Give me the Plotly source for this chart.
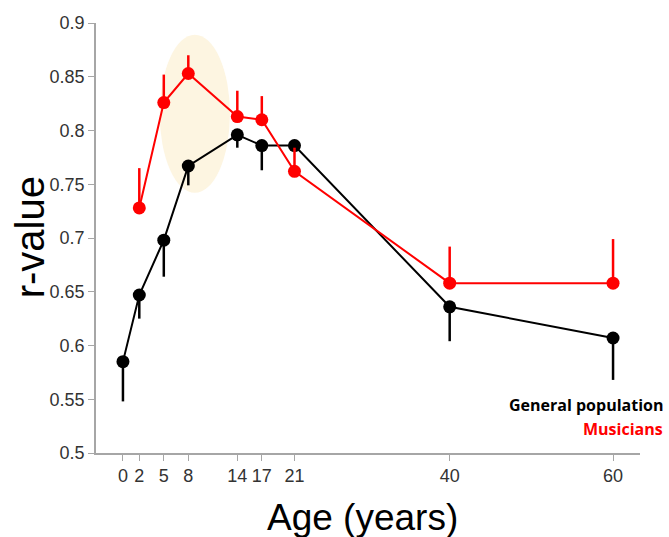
import plotly.graph_objects as go

# Data
ages_general = [0, 2, 5, 8, 14, 17, 21, 40, 60]
r_general = [0.585, 0.647, 0.698, 0.767, 0.796, 0.786, 0.786, 0.636, 0.607]
err_general_down = [0.037, 0.022, 0.034, 0.018, 0.012, 0.023, 0.0, 0.032, 0.039]

ages_musicians = [2, 5, 8, 14, 17, 21, 40, 60]
r_musicians = [0.728, 0.826, 0.853, 0.813, 0.810, 0.762, 0.658, 0.658]
err_musicians_up = [0.037, 0.026, 0.017, 0.024, 0.022, 0.022, 0.034, 0.041]

x_ticks = [0, 2, 5, 8, 14, 17, 21, 40, 60]
y_ticks = [0.5, 0.55, 0.6, 0.65, 0.7, 0.75, 0.8, 0.85, 0.9]
y_tick_labels = ["0.5", "0.55", "0.6", "0.65", "0.7", "0.75", "0.8", "0.85", "0.9"]

# highlighted window (age, r-value bounds)
highlight_x = [4.5, 13.1]
highlight_y = [0.742, 0.889]

BLACK = "#000000"
RED = "#FF0000"
AXIS = "#A6A6A6"
TICKTXT = "#333333"
FONT = "Liberation Sans, Arial, sans-serif"

fig = go.Figure()

fig.add_shape(type="circle", xref="x", yref="y",
              x0=highlight_x[0], x1=highlight_x[1],
              y0=highlight_y[0], y1=highlight_y[1],
              fillcolor="#FDF5E1", line=dict(width=0), layer="below")

fig.add_trace(go.Scatter(
    x=ages_general, y=r_general, mode="lines+markers",
    line=dict(color=BLACK, width=2),
    marker=dict(color=BLACK, size=13),
    error_y=dict(type="data", symmetric=False,
                 array=[0] * len(err_general_down),
                 arrayminus=err_general_down,
                 color=BLACK, thickness=2.5, width=0),
    name="General population", hoverinfo="skip"))

fig.add_trace(go.Scatter(
    x=ages_musicians, y=r_musicians, mode="lines+markers",
    line=dict(color=RED, width=2),
    marker=dict(color=RED, size=13),
    error_y=dict(type="data", symmetric=False,
                 array=err_musicians_up,
                 arrayminus=[0] * len(err_musicians_up),
                 color=RED, thickness=2.5, width=0),
    name="Musicians", hoverinfo="skip"))

fig.update_layout(
    width=669, height=537,
    margin=dict(l=96, r=29, t=23, b=84, autoexpand=False),
    paper_bgcolor="white", plot_bgcolor="white",
    showlegend=False,
    font=dict(family=FONT, color=TICKTXT),
)

fig.update_xaxes(
    range=[-3.3, 63.3], tickmode="array", tickvals=x_ticks,
    ticktext=[str(t) for t in x_ticks], automargin=False,
    showgrid=False, zeroline=False, showline=True, linecolor=AXIS, linewidth=1.5,
    ticks="outside", ticklen=6, tickcolor=AXIS, tickwidth=1.2,
    tickfont=dict(size=18, color=TICKTXT, family=FONT),
)
fig.update_yaxes(
    range=[0.5, 0.9], tickmode="array", tickvals=y_ticks, ticktext=y_tick_labels,
    automargin=False,
    showgrid=False, zeroline=False, showline=True, linecolor=AXIS, linewidth=1.5,
    ticks="outside", ticklen=6, tickcolor=AXIS, tickwidth=1.2,
    tickfont=dict(size=18, color=TICKTXT, family=FONT),
)

fig.add_annotation(text="r-value", xref="paper", yref="paper",
                   x=-0.121, y=0.502, textangle=-90, showarrow=False,
                   xanchor="center", yanchor="middle",
                   font=dict(size=40, color="#000000", family=FONT))
fig.add_annotation(text="Age (years)", xref="paper", yref="paper",
                   x=0.49, y=-0.15, showarrow=False,
                   xanchor="center", yanchor="middle",
                   font=dict(size=37, color="#000000", family=FONT))

fig.add_annotation(text="<b>General population</b>", xref="paper", yref="paper",
                   x=(665 - 96) / 544, y=(453 - 405) / 430, showarrow=False,
                   xanchor="right", yanchor="middle",
                   font=dict(size=16, color="#000000", family="Open Sans, sans-serif"))
fig.add_annotation(text="<b>Musicians</b>", xref="paper", yref="paper",
                   x=(665 - 96) / 544, y=(453 - 428.5) / 430, showarrow=False,
                   xanchor="right", yanchor="middle",
                   font=dict(size=16, color=RED, family="Open Sans, sans-serif"))

fig.write_html("out.html", config={"displayModeBar": False},
               post_script="document.body.style.margin='0';document.body.style.overflow='hidden';")
